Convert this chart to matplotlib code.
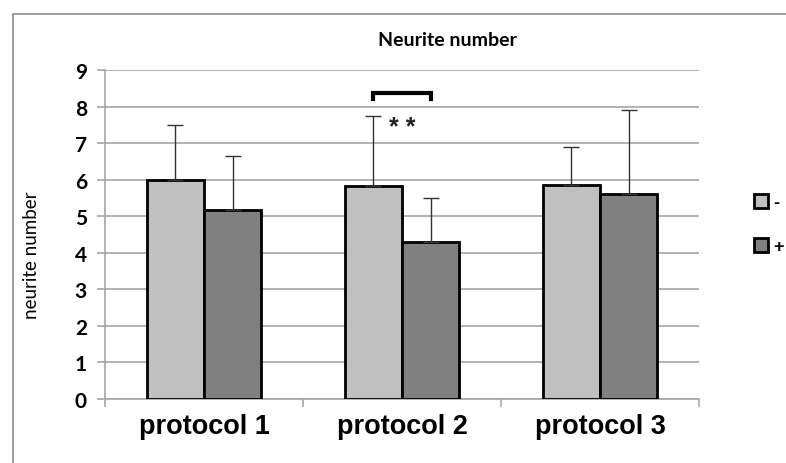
import numpy as np
import matplotlib
matplotlib.use("Agg")
import matplotlib.pyplot as plt
from matplotlib.patches import Rectangle, Patch

# neurite counts per protocol, without (-) and with (+) treatment
protocols = ["protocol 1", "protocol 2", "protocol 3"]
mean_minus = [6.0, 5.83, 5.86]
mean_plus = [5.17, 4.3, 5.6]
err_minus = [1.5, 1.9, 1.02]
err_plus = [1.48, 1.19, 2.3]
series_labels = ["-", "+"]
y_ticks = list(range(0, 10))

GRID = "#a6a6a6"

fig = plt.figure(figsize=(7.86, 4.64), dpi=100)
ax = fig.add_axes([105 / 786, 64 / 464, 594 / 786, 329 / 464])

# thin frame around the whole chart area
fig.patches.append(Rectangle((13 / 786, -0.1), 1.2, (464 - 15) / 464 + 0.1,
                             transform=fig.transFigure, fill=False,
                             edgecolor="#8c8c8c", lw=1.2))

x = np.arange(len(protocols))
w = 0.288
ekw = dict(ecolor="#333333", elinewidth=1.0, capthick=1.0)
ax.bar(x - w / 2, mean_minus, w, color="#c0c0c0", edgecolor="black", lw=2,
       yerr=[np.zeros(3), err_minus], capsize=5.5, error_kw=ekw, zorder=3)
ax.bar(x + w / 2, mean_plus, w, color="#808080", edgecolor="black", lw=2,
       yerr=[np.zeros(3), err_plus], capsize=5.5, error_kw=ekw, zorder=3)

ax.set_xlim(-0.5, 2.5)
ax.set_ylim(0, 9)
ax.set_yticks(y_ticks)
ax.yaxis.grid(True, color=GRID, lw=1.2)
ax.set_axisbelow(True)

for side in ["top", "right"]:
    ax.spines[side].set_visible(False)
for side in ["left", "bottom"]:
    ax.spines[side].set_color(GRID)
    ax.spines[side].set_linewidth(1.2)

ax.set_xticks(x)
ax.set_xticklabels(protocols, fontsize=19.5, fontweight="bold",
                   family="Liberation Sans")
ax.tick_params(axis="x", length=0, pad=10)
ax.set_xticks([-0.5, 0.5, 1.5, 2.5], minor=True)
ax.tick_params(axis="x", which="minor", length=6, color=GRID, width=1.2)
ax.tick_params(axis="y", length=6, color=GRID, width=1.2, pad=7)
for t in ax.get_yticklabels():
    t.set_fontweight("bold")
    t.set_fontsize(15)
    t.set_family("Lato")

ax.set_ylabel("neurite number", fontsize=13.5, family="Lato")
ax.yaxis.set_label_coords(-0.109, 0.44)
fig.text(447 / 786, 1 - 40 / 464, "Neurite number", ha="center", va="center",
         fontsize=14, fontweight="bold", family="Lato")

# significance bracket between the two protocol 2 bars
bx0, bx1 = x[1] - w / 2, x[1] + w / 2
ax.plot([bx0, bx0, bx1, bx1], [8.22, 8.37, 8.37, 8.22], color="black",
        lw=3, solid_joinstyle="miter", clip_on=False, zorder=4)
ax.text(x[1], 7.45, "* *", ha="center", va="center", fontsize=18,
        fontweight="bold", color="#222222", family="Liberation Sans")

handles = [Patch(facecolor="#c0c0c0", edgecolor="black", lw=2),
           Patch(facecolor="#808080", edgecolor="black", lw=2)]
leg = ax.legend(handles, series_labels, loc="center left",
                bbox_to_anchor=(1.065, 0.53), frameon=False,
                handlelength=0.8, handleheight=0.8, handletextpad=0.3,
                labelspacing=1.5, prop={"family": "Liberation Sans",
                                        "weight": "bold", "size": 13})

fig.savefig("out.png", dpi=100, facecolor="white")
